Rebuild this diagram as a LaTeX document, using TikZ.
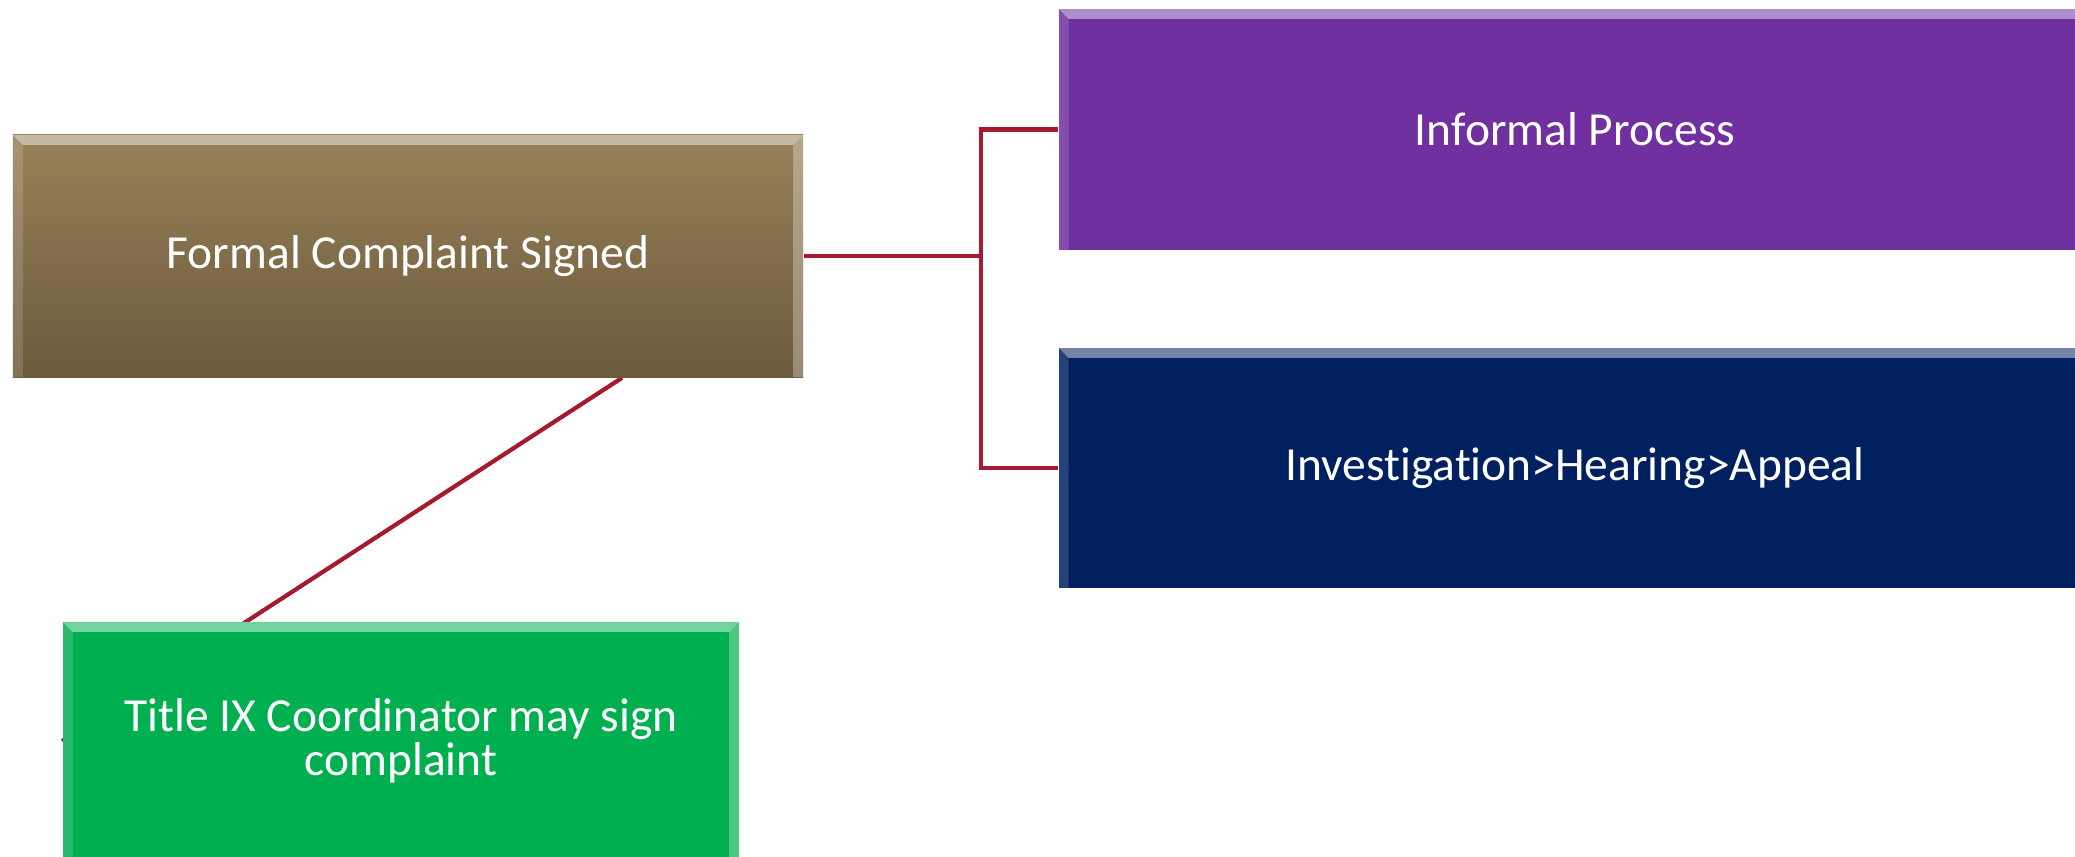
\documentclass[tikz,border=0pt]{standalone}
\usepackage{fontspec}
\setmainfont[Ligatures=NoCommon]{Carlito}
\usetikzlibrary{backgrounds}

\definecolor{linkred}{HTML}{A6192E}
\definecolor{browntop}{HTML}{988158}
\definecolor{brownbot}{HTML}{6B5A3C}
\definecolor{purplebox}{HTML}{7030A0}
\definecolor{navybox}{HTML}{002060}
\definecolor{greenbox}{HTML}{00B050}

\tikzset{
	box/.style={rectangle, inner sep=0pt, text=white, align=center,
		font=\fontsize{13.5}{12.5}\selectfont,
		path picture={
			\coordinate (nw) at (path picture bounding box.north west);
			\coordinate (ne) at (path picture bounding box.north east);
			\coordinate (sw) at (path picture bounding box.south west);
			\coordinate (se) at (path picture bounding box.south east);
			\fill[white,opacity=.45] (nw) -- (ne) -- ([shift={(-.1cm,-.1cm)}]ne) -- ([shift={(.1cm,-.1cm)}]nw) -- cycle;
			\fill[white,opacity=.3] (ne) -- (se) -- ([shift={(-.1cm,0)}]se) -- ([shift={(-.1cm,-.1cm)}]ne) -- cycle;
			\fill[white,opacity=.15] (nw) -- (sw) -- ([shift={(.1cm,0)}]sw) -- ([shift={(.1cm,-.1cm)}]nw) -- cycle;
		}},
	link/.style={draw=linkred, line width=1.2pt},
}

\begin{document}
\begin{tikzpicture}[x=0.01cm, y=-0.01cm]
	\useasboundingbox (0,0) rectangle (2075,856);
	% boxes
	\node[box, top color=browntop, bottom color=brownbot, minimum width=7.9cm, minimum height=2.42cm] (formal) at (408,256) {Formal Complaint Signed};
	\node[box, fill=purplebox, minimum width=10.32cm, minimum height=2.41cm] (informal) at (1575,129.5) {Informal Process};
	\node[box, fill=navybox, minimum width=10.32cm, minimum height=2.4cm] (invest) at (1575,468) {Investigation>Hearing>Appeal};
	\node[box, fill=greenbox, minimum width=6.76cm, minimum height=2.38cm] (coord) at (401,741) {Title IX Coordinator may sign\\complaint};
	% connectors
	\draw[link] (formal.east) -- ++(177,0) coordinate (fork);
	\draw[link] (informal.west) -| (fork) |- (invest.west);
	\begin{scope}[on background layer]
		\draw[link] ([xshift=2.14cm]formal.south) -- (coord.west);
	\end{scope}
\end{tikzpicture}
\end{document}
